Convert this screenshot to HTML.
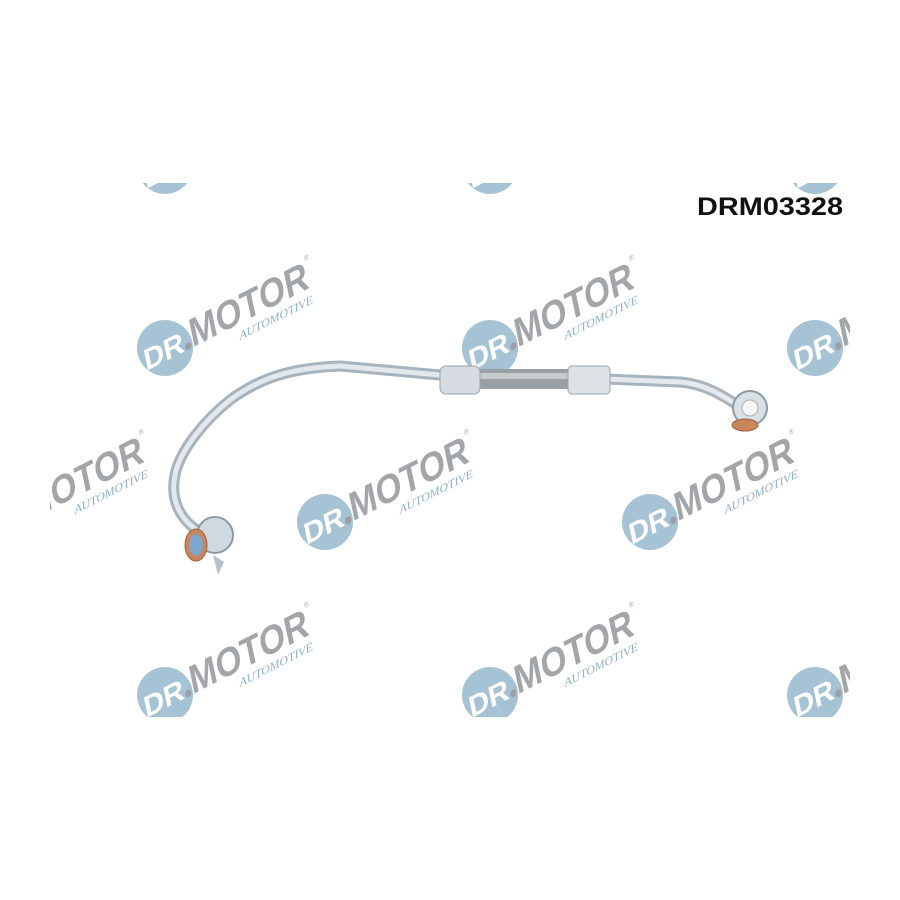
<!DOCTYPE html>
<html><head><style>
html,body{margin:0;padding:0;background:#fff;width:900px;height:900px;overflow:hidden}
svg{display:block}
</style></head><body>
<svg width="900" height="900" viewBox="0 0 900 900" xmlns="http://www.w3.org/2000/svg">
<defs>
<clipPath id="band"><rect x="50" y="183" width="800" height="534"/></clipPath>
<g id="logo">
  <circle cx="0" cy="0" r="28" fill="#a6c3d6"/>
  <g transform="rotate(-27) skewX(-15)">
    <text x="-24" y="12" font-family="Liberation Sans, sans-serif" font-weight="bold" font-size="28" fill="#fff" textLength="44" lengthAdjust="spacingAndGlyphs">DR</text>
    <circle cx="24" cy="9" r="3.5" fill="#9aa0a6"/>
    <text x="28" y="12" font-family="Liberation Sans, sans-serif" font-weight="bold" font-size="38" fill="#a3a6a9" textLength="132" lengthAdjust="spacingAndGlyphs">MOTOR</text>
    <text x="160" y="-14" font-family="Liberation Sans, sans-serif" font-size="7" fill="#a3a6a9">®</text>
    <text x="78" y="27" font-family="Liberation Serif, serif" font-style="italic" font-size="11" fill="#8fb2cc" textLength="82" lengthAdjust="spacingAndGlyphs">AUTOMOTIVE</text>
  </g>
</g>
</defs>
<g clip-path="url(#band)">
  <use href="#logo" x="165" y="166"/>
  <use href="#logo" x="490" y="166"/>
  <use href="#logo" x="815" y="166"/>
  <use href="#logo" x="165" y="348"/>
  <use href="#logo" x="490" y="348"/>
  <use href="#logo" x="815" y="348"/>
  <use href="#logo" x="0" y="522"/>
  <use href="#logo" x="325" y="522"/>
  <use href="#logo" x="650" y="522"/>
  <use href="#logo" x="165" y="695"/>
  <use href="#logo" x="490" y="695"/>
  <use href="#logo" x="815" y="695"/>
</g>

<g fill="none" stroke-linecap="round" stroke-linejoin="round">
  <path d="M200,532 C180,520 170,500 175,475 C180,450 205,420 230,400 C260,378 290,368 340,366 L440,375" stroke="#a7b3be" stroke-width="11"/>
  <path d="M200,532 C180,520 170,500 175,475 C180,450 205,420 230,400 C260,378 290,368 340,366 L440,375" stroke="#e3e8ec" stroke-width="5"/>
  <path d="M605,379 L680,382 C705,384 722,395 742,408" stroke="#a7b3be" stroke-width="11"/>
  <path d="M605,379 L680,382 C705,384 722,395 742,408" stroke="#e6eaee" stroke-width="5"/>
</g>
<rect x="478" y="369" width="92" height="20" fill="#9a9fa4"/>
<rect x="478" y="373" width="92" height="6" fill="#c6cacd"/>
<rect x="440" y="366" width="40" height="28" rx="6" fill="#d6dce1" stroke="#9aa4ad"/>
<rect x="568" y="366" width="42" height="28" rx="4" fill="#dde2e6" stroke="#9aa4ad"/>
<circle cx="750" cy="408" r="17" fill="#d9e0e6" stroke="#8d9aa5" stroke-width="2"/>
<circle cx="750" cy="408" r="8" fill="#f3f5f7" stroke="#a8b2bb"/>
<ellipse cx="745" cy="425" rx="13" ry="6" fill="#c8865a" stroke="#a06440"/>
<path d="M213,555 L218,575 L224,562 Z" fill="#b7c1ca"/>
<circle cx="215" cy="535" r="18" fill="#d0d9e1" stroke="#8d9aa5" stroke-width="2"/>
<ellipse cx="196" cy="545" rx="11" ry="16" fill="#c8865a" stroke="#a06440"/>
<ellipse cx="196" cy="545" rx="7" ry="11" fill="#7fa6cc"/>
<text x="697" y="215" font-family="Liberation Sans, sans-serif" font-weight="bold" font-size="25" fill="#111" textLength="146" lengthAdjust="spacingAndGlyphs">DRM03328</text>
</svg>
</body></html>
